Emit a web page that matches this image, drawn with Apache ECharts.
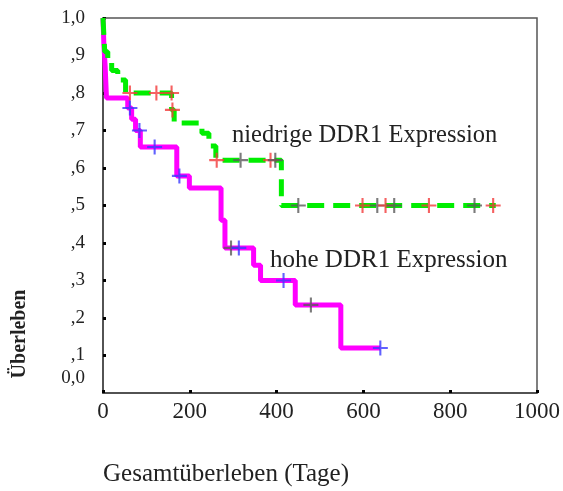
<!DOCTYPE html>
<html>
<head>
<meta charset="utf-8">
<script src="https://cdn.jsdelivr.net/npm/echarts@6/dist/echarts.min.js"></script>
<style>html,body{margin:0;padding:0;background:#fff}#c{width:563px;height:491px}</style>
</head>
<body>
<div id="c"></div>
<script>
// Kaplan-Meier curve: niedrige DDR1 Expression (green, dashed)
var lowTimes = [0, 4, 11, 20, 34, 52, 158, 164, 228, 244, 260, 411, 905];
var lowSurv  = [1.0, 0.91, 0.883, 0.86, 0.835, 0.80, 0.755, 0.72, 0.693, 0.659, 0.621, 0.50, 0.50];
// censored observations (low)
var lowCensT = [62, 123, 158, 160, 262, 317, 386, 397, 450, 598, 632, 651, 671, 751, 856, 899];
var lowCensS = [0.80, 0.80, 0.80, 0.755, 0.621, 0.621, 0.621, 0.621, 0.5, 0.5, 0.5, 0.5, 0.5, 0.5, 0.5, 0.5];
var lowCensC = ['r','r','r','r','r','g','r','g','g','r','g','r','g','r','g','r'];

// Kaplan-Meier curve: hohe DDR1 Expression (magenta)
var highTimes = [0, 2, 5, 8, 57, 66, 75, 86, 170, 199, 272, 281, 347, 363, 443, 548, 639];
var highSurv  = [1.0, 0.93, 0.87, 0.787, 0.76, 0.73, 0.70, 0.656, 0.579, 0.547, 0.461, 0.387, 0.341, 0.30, 0.235, 0.12, 0.12];
var highCensT = [62, 84, 119, 176, 295, 313, 416, 479, 639];
var highCensS = [0.76, 0.70, 0.656, 0.579, 0.387, 0.387, 0.30, 0.235, 0.12];
var highCensC = ['b','b','b','b','g','b','b','g','b'];

var xTicks = [0, 200, 400, 600, 800, 1000];
var yTickLabels = ['0,0', ',1', ',2', ',3', ',4', ',5', ',6', ',7', ',8', ',9', '1,0'];

var FONT = '"Liberation Serif", "DejaVu Serif", serif';
var colorMap = { r: '#f23a3a', g: '#5a5a5a', b: '#3a3aff' };
var plus = 'path://M4.3,0H5.7V10H4.3Z M0,4.3H10V5.7H0Z';

function pairs(t, s) { return t.map(function (v, i) { return [v, s[i]]; }); }
function cens(t, s, c) {
  return t.map(function (v, i) { return { value: [v, s[i]], itemStyle: { color: colorMap[c[i]] } }; });
}

var chart = echarts.init(document.getElementById('c'));
chart.setOption({
  animation: false,
  backgroundColor: '#fff',
  grid: { left: 103, right: 22, top: 18, bottom: 98, show: true, borderColor: '#555', borderWidth: 1.5, backgroundColor: 'transparent' },
  xAxis: {
    type: 'value', min: 0, max: 1000, interval: 200,
    axisLine: { lineStyle: { color: '#444', width: 1.5 } },
    axisTick: { show: true, length: 3, inside: true, lineStyle: { color: '#000', width: 3 } },
    splitLine: { show: false },
    axisLabel: { color: '#222', fontFamily: FONT, fontSize: 23, margin: 7, hideOverlap: false,
      formatter: function (v) { return xTicks.indexOf(v) >= 0 ? String(v) : ''; } }
  },
  yAxis: [{
    type: 'value', min: 0, max: 1, interval: 0.1,
    axisLine: { show: true, lineStyle: { color: '#444', width: 1.5 } },
    axisTick: { show: true, length: 3, inside: true, lineStyle: { color: '#000', width: 3 } },
    splitLine: { show: false },
    axisLabel: { color: '#222', fontFamily: FONT, fontSize: 19, margin: 18, showMinLabel: false, showMaxLabel: true,
      formatter: function (v) {
        var i = Math.round(v * 10);
        return i === 0 ? '' : yTickLabels[i];
      }
    }
  }, {
    // second axis only carries the raised "0,0" label
    type: 'value', min: 0, max: 1, interval: 0.1, position: 'left',
    axisLine: { show: false }, axisTick: { show: false }, splitLine: { show: false },
    axisLabel: { color: '#222', fontFamily: FONT, fontSize: 19, margin: 18, showMinLabel: true,
      formatter: function (v) {
        var i = Math.round(v * 10);
        return i === 0 ? '{z|' + yTickLabels[0] + '}' : '';
      },
      rich: { z: { fontFamily: FONT, fontSize: 19, color: '#222', padding: [0, 0, 30, 0] } }
    }
  }],
  series: [
    { type: 'line', name: 'hohe', step: 'end', showSymbol: false, z: 2,
      data: pairs(highTimes, highSurv), lineStyle: { color: '#ff00ff', width: 5 } },
    { type: 'line', name: 'niedrige', step: 'end', showSymbol: false, z: 3,
      data: pairs(lowTimes, lowSurv), lineStyle: { color: '#00ee00', width: 5, type: [17, 9] } },
    { type: 'scatter', z: 5, symbol: plus, symbolSize: 15, data: cens(lowCensT, lowCensS, lowCensC) },
    { type: 'scatter', z: 5, symbol: plus, symbolSize: 15, data: cens(highCensT, highCensS, highCensC) }
  ],
  graphic: [
    { type: 'text', left: 232, top: 123, style: { text: 'niedrige DDR1 Expression', font: '24.5px ' + FONT, fill: '#222' } },
    { type: 'text', left: 270, top: 248, style: { text: 'hohe DDR1 Expression', font: '25px ' + FONT, fill: '#222' } },
    { type: 'text', x: 20, y: 334, rotation: Math.PI / 2, style: { text: 'Überleben', font: 'bold 20px ' + FONT, fill: '#222', align: 'center', verticalAlign: 'middle' } },
    { type: 'text', left: 103, top: 462, style: { text: 'Gesamtüberleben (Tage)', font: '25px ' + FONT, fill: '#222' } }
  ]
});
</script>
</body>
</html>
